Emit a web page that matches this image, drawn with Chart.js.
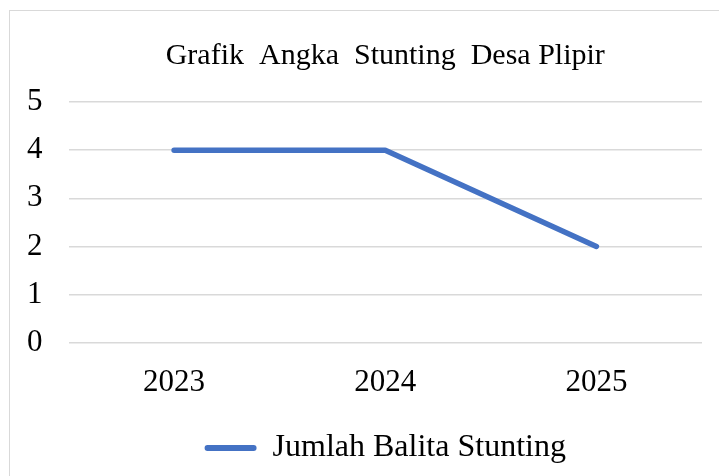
<!DOCTYPE html>
<html>
<head>
<meta charset="utf-8">
<script src="https://cdn.jsdelivr.net/npm/chart.js@4.4.1/dist/chart.umd.min.js"></script>
<style>
    html, body { margin: 0; padding: 0; background: #fff; overflow: hidden; }
    #frame {
        position: absolute; left: 9px; top: 10px; width: 760px; height: 520px;
        border: 1px solid #d9d9d9; box-sizing: border-box;
    }
    #wrap { position: absolute; left: 0; top: 0; width: 719px; height: 476px; }
</style>
</head>
<body>
<div id="frame"></div>
<div id="wrap"><canvas id="stuntingChart"></canvas></div>
<script>
// data
const tahun = ['2023', '2024', '2025'];
const jumlahBalita = [4, 4, 2];
const judul = 'Grafik  Angka  Stunting  Desa Plipir';
const namaSeri = 'Jumlah Balita Stunting';

const fontSerif = '"Liberation Serif", "Times New Roman", serif';

document.addEventListener('DOMContentLoaded', () => {
    const ctx = document.getElementById('stuntingChart').getContext('2d');

    new Chart(ctx, {
        type: 'line',
        data: {
            labels: tahun,
            datasets: [{
                label: namaSeri,
                data: jumlahBalita,
                borderColor: '#4472C4',
                backgroundColor: '#4472C4',
                borderWidth: 5.5,
                borderCapStyle: 'round',
                borderJoinStyle: 'round',
                pointRadius: 0,
                fill: false,
                tension: 0
            }]
        },
        options: {
            responsive: true,
            maintainAspectRatio: false,
            animation: false,
            layout: {
                padding: { left: 1, right: 17, top: 0, bottom: 2 }
            },
            plugins: {
                title: {
                    display: true,
                    fullSize: false,
                    text: judul,
                    color: '#000',
                    font: { family: fontSerif, size: 30, weight: 'normal' },
                    padding: { top: 38, bottom: 28 }
                },
                legend: {
                    position: 'bottom',
                    fullSize: false,
                    labels: {
                        color: '#000',
                        font: { family: fontSerif, size: 32 },
                        boxWidth: 52,
                        boxHeight: 6,
                        useBorderRadius: true,
                        borderRadius: 3,
                        padding: 10,
                        generateLabels: (chart) => {
                            const items = Chart.defaults.plugins.legend.labels.generateLabels(chart);
                            items.forEach(it => { it.lineWidth = 0; });
                            return items;
                        }
                    }
                },
                tooltip: { enabled: false }
            },
            scales: {
                x: {
                    offset: true,
                    grid: { display: false, drawTicks: false },
                    border: { display: false },
                    ticks: {
                        color: '#000',
                        padding: 21,
                        font: { family: fontSerif, size: 31 }
                    }
                },
                y: {
                    min: 0,
                    max: 5,
                    grid: { color: '#d9d9d9', lineWidth: 1.5, drawTicks: false },
                    border: { display: false },
                    ticks: {
                        stepSize: 1,
                        color: '#000',
                        padding: 26,
                        font: { family: fontSerif, size: 31 }
                    }
                }
            }
        }
    });
});
</script>
</body>
</html>
